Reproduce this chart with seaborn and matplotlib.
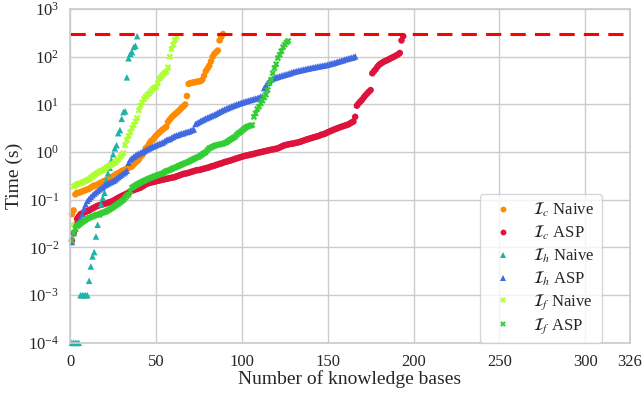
import numpy as np
import pandas as pd
import matplotlib
matplotlib.use("Agg")
import matplotlib.pyplot as plt
import seaborn as sns

# solving times (s) of each series, sorted (cactus plot)
c_naive = [0.05, 0.06, 0.13, 0.14, 0.14, 0.145, 0.15, 0.155, 0.16, 0.165,
           0.17, 0.18, 0.19, 0.2, 0.2, 0.21, 0.22, 0.23, 0.24, 0.25,
           0.26, 0.27, 0.28, 0.3, 0.31, 0.33, 0.35, 0.36, 0.38, 0.4,
           0.42, 0.43, 0.45, 0.47, 0.49, 0.5, 0.55, 0.6, 0.65, 0.7,
           0.8, 0.87, 1.0, 1.2, 1.3, 1.5, 1.7, 1.8, 2.0, 2.2,
           2.4, 2.6, 2.8, 3.0, 3.2, 3.4, 4.3, 4.8, 5.3, 5.8,
           6.2, 6.7, 7.2, 7.8, 8.5, 9.2, 10, 15, 27, 28,
           28.5, 29, 29.5, 30, 30.5, 31, 33, 40, 50, 57,
           65, 80, 100, 115, 125, 135, 220, 260, 300]

c_asp = [0.014, 0.02, 0.03, 0.04, 0.045, 0.05, 0.052, 0.054, 0.056, 0.058,
         0.06, 0.063, 0.066, 0.069, 0.072, 0.075, 0.077, 0.079, 0.081, 0.083,
         0.085, 0.087, 0.089, 0.092, 0.095, 0.1, 0.105, 0.11, 0.115, 0.12,
         0.125, 0.13, 0.135, 0.14, 0.15, 0.155, 0.16, 0.165, 0.17, 0.175,
         0.18, 0.19, 0.2, 0.21, 0.22, 0.225, 0.23, 0.235, 0.24, 0.245,
         0.25, 0.255, 0.26, 0.265, 0.27, 0.275, 0.28, 0.285, 0.29, 0.295,
         0.3, 0.31, 0.32, 0.33, 0.34, 0.35, 0.355, 0.36, 0.37, 0.38,
         0.39, 0.4, 0.41, 0.42, 0.42, 0.43, 0.44, 0.45, 0.46, 0.47,
         0.48, 0.5, 0.51, 0.52, 0.54, 0.55, 0.57, 0.58, 0.6, 0.62,
         0.63, 0.65, 0.66, 0.68, 0.7, 0.72, 0.74, 0.76, 0.78, 0.8,
         0.82, 0.84, 0.85, 0.87, 0.89, 0.9, 0.92, 0.94, 0.96, 0.98,
         1.0, 1.02, 1.04, 1.06, 1.08, 1.1, 1.12, 1.14, 1.16, 1.18,
         1.2, 1.25, 1.3, 1.35, 1.4, 1.42, 1.45, 1.48, 1.5, 1.52,
         1.55, 1.58, 1.6, 1.65, 1.7, 1.75, 1.8, 1.85, 1.9, 1.95,
         2.0, 2.05, 2.1, 2.15, 2.2, 2.3, 2.35, 2.4, 2.5, 2.6,
         2.7, 2.8, 2.9, 3.0, 3.1, 3.2, 3.3, 3.4, 3.5, 3.6,
         3.7, 3.8, 4.0, 4.2, 4.4, 5.5, 9.4, 10.5, 11.5, 12.5,
         14, 15.5, 17, 18.5, 20, 45, 50, 55, 62, 68,
         72, 76, 80, 83, 86, 90, 94, 98, 102, 107,
         112, 120, 220, 270]

h_naive = [0.0001, 0.0001, 0.0001, 0.0001, 0.0001, 0.001, 0.001, 0.001, 0.001, 0.001,
           0.002, 0.004, 0.0065, 0.008, 0.017, 0.03, 0.05, 0.08, 0.11, 0.14,
           0.26, 0.36, 0.47, 0.68, 0.9, 1.2, 1.4, 2.5, 2.9, 5.0,
           6.9, 7.2, 37, 93, 115, 125, 160, 170, 270]

h_asp = [0.013, 0.02, 0.025, 0.03, 0.035, 0.04, 0.05, 0.065, 0.08, 0.095,
         0.105, 0.115, 0.125, 0.135, 0.145, 0.155, 0.165, 0.175, 0.185, 0.2,
         0.21, 0.22, 0.23, 0.24, 0.25, 0.26, 0.28, 0.3, 0.32, 0.34,
         0.36, 0.38, 0.41, 0.6, 0.7, 0.75, 0.8, 0.85, 0.9, 0.93,
         0.97, 1.0, 1.05, 1.1, 1.15, 1.2, 1.25, 1.3, 1.35, 1.4,
         1.45, 1.5, 1.55, 1.6, 1.7, 1.8, 1.85, 1.9, 2.0, 2.1,
         2.2, 2.25, 2.3, 2.4, 2.45, 2.5, 2.6, 2.65, 2.7, 2.8,
         2.9, 3.0, 3.9, 4.1, 4.3, 4.5, 4.7, 4.9, 5.1, 5.3,
         5.5, 5.7, 5.9, 6.1, 6.4, 6.7, 7.0, 7.3, 7.6, 7.9,
         8.2, 8.5, 8.8, 9.1, 9.4, 9.7, 10, 10.3, 10.6, 10.9,
         11.2, 11.5, 11.8, 12.1, 12.4, 12.7, 13, 13.3, 13.6, 14,
         14.5, 15, 22, 25, 28, 31, 33, 35, 36, 37,
         38, 39, 40, 41, 42, 43, 44, 45, 47, 48,
         49, 50, 51, 52, 53, 54, 55, 56, 57, 58,
         59, 60, 61, 62, 63, 64, 65, 66, 67, 68,
         70, 72, 73, 75, 77, 79, 81, 83, 85, 88,
         90, 92, 94, 96, 98, 102]

f_naive = [0.03, 0.19, 0.2, 0.21, 0.22, 0.22, 0.23, 0.24, 0.25, 0.26,
           0.27, 0.29, 0.31, 0.33, 0.35, 0.37, 0.39, 0.4, 0.42, 0.44,
           0.47, 0.5, 0.52, 0.55, 0.57, 0.6, 0.65, 0.7, 0.78, 0.85,
           0.95, 1.4, 1.8, 2.2, 2.6, 3.2, 3.7, 4.4, 5.2, 7.5,
           9.5, 11, 13, 14.5, 16, 17, 19, 21, 22, 23,
           28, 35, 38, 42, 46, 48, 60, 100, 145, 180,
           225, 260]

f_asp = [0.014, 0.02, 0.025, 0.028, 0.03, 0.032, 0.034, 0.036, 0.038, 0.04,
         0.042, 0.043, 0.045, 0.046, 0.048, 0.049, 0.05, 0.052, 0.054, 0.055,
         0.057, 0.06, 0.063, 0.066, 0.07, 0.074, 0.078, 0.083, 0.088, 0.094,
         0.1, 0.11, 0.12, 0.13, 0.15, 0.18, 0.19, 0.2, 0.21, 0.22,
         0.23, 0.24, 0.25, 0.26, 0.27, 0.28, 0.29, 0.3, 0.31, 0.32,
         0.33, 0.34, 0.35, 0.36, 0.38, 0.4, 0.41, 0.42, 0.44, 0.46,
         0.47, 0.49, 0.51, 0.53, 0.55, 0.57, 0.59, 0.61, 0.63, 0.66,
         0.69, 0.72, 0.75, 0.78, 0.8, 0.85, 0.9, 0.95, 1.0, 1.1,
         1.2, 1.25, 1.3, 1.35, 1.4, 1.42, 1.45, 1.48, 1.5, 1.55,
         1.6, 1.7, 1.8, 1.9, 2.0, 2.1, 2.3, 2.5, 2.6, 2.8,
         3.0, 3.2, 3.4, 3.5, 3.6, 3.7, 5.5, 6.5, 8, 9,
         10.5, 12, 14, 16, 20, 28, 33, 45, 58, 70,
         94, 110, 130, 160, 180, 200, 215]

labels = [r"$\mathcal{I}_c$ Naive", r"$\mathcal{I}_c$ ASP",
          r"$\mathcal{I}_h$ Naive", r"$\mathcal{I}_h$ ASP",
          r"$\mathcal{I}_f$ Naive", r"$\mathcal{I}_f$ ASP"]
series = [c_naive, c_asp, h_naive, h_asp, f_naive, f_asp]
colors = ["darkorange", "crimson", "lightseagreen", "royalblue", "greenyellow", "limegreen"]
marker_list = ["o", "o", "^", "^", "X", "X"]
timeout = 300
total_kbs = 326

rows = []
for lab, vals in zip(labels, series):
    for i, v in enumerate(vals):
        rows.append({"kb": i + 1, "time": v, "series": lab})
df = pd.DataFrame(rows)

sns.set_theme(style="whitegrid")
plt.rcParams["font.family"] = "serif"
plt.rcParams["font.serif"] = ["Liberation Serif", "DejaVu Serif"]
plt.rcParams["mathtext.fontset"] = "stix"

fig = plt.figure(figsize=(6.44, 3.95), dpi=100)
ax = fig.add_axes([0.109, 0.132, 0.869, 0.845])

sns.scatterplot(data=df, x="kb", y="time", hue="series", style="series",
                hue_order=labels, style_order=labels,
                palette=dict(zip(labels, colors)),
                markers=dict(zip(labels, marker_list)),
                s=22, linewidth=0, clip_on=False, ax=ax)

ax.axhline(timeout, color="red", linestyle=(0, (5, 3)), linewidth=2.2)

ax.set_yscale("log")
ax.set_ylim(1e-4, 1e3)
ax.set_xlim(0, total_kbs)
ax.set_xticks([0, 50, 100, 150, 200, 250, 300, total_kbs])
ax.tick_params(axis="both", labelsize=12, pad=2)
ax.set_xlabel("Number of knowledge bases", fontsize=14, labelpad=0)
ax.set_ylabel("Time (s)", fontsize=14, labelpad=4)

sns.move_legend(ax, "lower right", bbox_to_anchor=(0.95, 0.0), borderaxespad=0,
                title=None, fontsize=12, frameon=True, labelspacing=0.27,
                markerscale=0.9)

fig.savefig("out.png", dpi=100)
